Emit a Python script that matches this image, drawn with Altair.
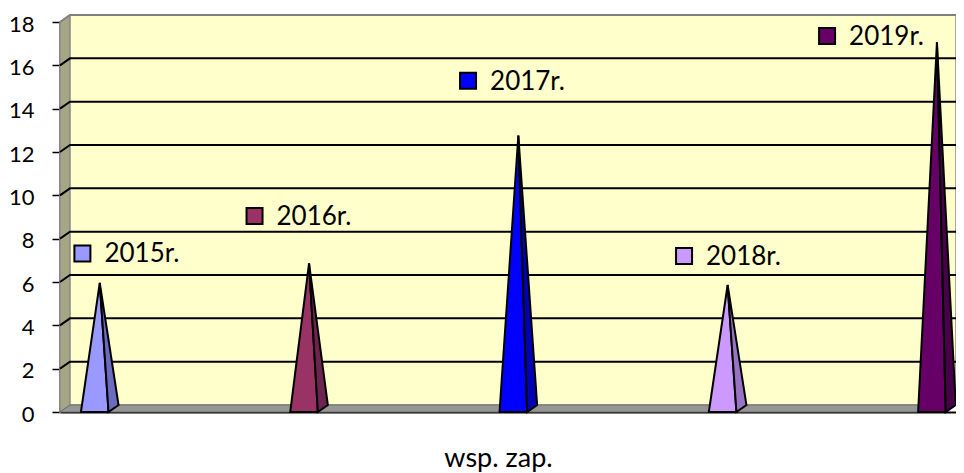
import altair as alt
import pandas as pd

# ---- data ----
years = ["2015r.", "2016r.", "2017r.", "2018r.", "2019r."]
values = [5.8, 6.7, 12.6, 5.7, 16.9]
front_colors = ["#9999FF", "#993366", "#0000FF", "#CC99FF", "#660066"]
side_colors = ["#6B6BC0", "#6E2450", "#0000B4", "#9A74C4", "#480048"]
label_x = [-0.059, 0.7635, 1.7836, 2.8156, 3.499]
label_y = [7.32, 9.05, 15.29, 7.2, 17.35]
y_ticks = [0, 2, 4, 6, 8, 10, 12, 14, 16, 18]
x_title = "wsp. zap."

# ---- layout constants (3-D look) ----
L, R = -0.166, 4.115          # x scale domain (category units)
D = 10 / 209.3                # depth offset in x units
DY = 7 / 21.667               # depth offset in y units
H = 13.8 / 209.3              # pyramid half base width
YMAX = 18
FONT = "Lato"

xs = alt.Scale(domain=[L, R], nice=False, zero=False)
ys = alt.Scale(domain=[0, YMAX], nice=False, zero=False)


def X():
    return alt.X("x:Q", scale=xs, axis=alt.Axis(
        title=x_title, labels=False, ticks=False, grid=False,
        domain=True, domainColor="black", domainWidth=2,
        titleFont=FONT, titleFontSize=27, titleFontWeight="normal",
        titleColor="black", titlePadding=33, titleX=438, titleAlign="center"))


def Y():
    return alt.Y("y:Q", scale=ys, axis=alt.Axis(
        title=None, values=y_ticks, grid=False, domain=True,
        domainColor="black", domainWidth=2, tickColor="black",
        tickWidth=1.5, tickSize=8, labelPadding=18, labelFont=FONT,
        labelFontSize=22, labelColor="black", labelOffset=2))


# walls (side wall + back wall)
walls = []
walls += [dict(key="side", x=L, y=YMAX, y2=0, fill="#A6A684"),
          dict(key="side", x=L + D, y=YMAX + DY, y2=DY, fill="#A6A684")]
walls += [dict(key="back", x=L + D, y=YMAX + DY, y2=DY, fill="#FFFFCC"),
          dict(key="back", x=R, y=YMAX + DY, y2=DY, fill="#FFFFCC")]
walls_df = pd.DataFrame(walls)

# floor
floor_df = pd.DataFrame([
    dict(key="floor", x=L, y=0, y2=0),
    dict(key="floor", x=L + D, y=DY, y2=0),
    dict(key="floor", x=R - D, y=DY, y2=0),
    dict(key="floor", x=R, y=DY, y2=DY),
])

# gridlines on side + back wall
grid = []
for g in y_ticks[1:]:
    col = "#808080" if g == YMAX else "black"
    for xx, yy in [(L, g), (L + D, g + DY), (R, g + DY)]:
        grid.append(dict(key=f"g{g}", x=xx, y=yy, col=col))
grid_df = pd.DataFrame(grid)

# pyramids: front face + side face
front, side = [], []
for i, (yr, v) in enumerate(zip(years, values)):
    c = float(i)
    ax, ay = c + D / 2, v + DY / 2
    front += [dict(key=yr, x=c - H, y=0, y2=0, fill=front_colors[i]),
              dict(key=yr, x=ax, y=ay, y2=0, fill=front_colors[i]),
              dict(key=yr, x=c + H, y=0, y2=0, fill=front_colors[i])]
    xb, xc = c + H, c + H + D
    up_b = ay + (DY - ay) * (xb - ax) / (xc - ax)
    side += [dict(key=yr, x=ax, y=ay, y2=ay, fill=side_colors[i]),
             dict(key=yr, x=xb, y=up_b, y2=0, fill=side_colors[i]),
             dict(key=yr, x=xc, y=DY, y2=DY, fill=side_colors[i])]
front_df = pd.DataFrame(front)
side_df = pd.DataFrame(side)

labels_df = pd.DataFrame(dict(x=label_x, y=label_y, text=years, fill=front_colors))

wall_layer = alt.Chart(walls_df).mark_area(
    stroke="#8C8C8C", strokeWidth=1.5, opacity=1).encode(
    x=X(), y=Y(), y2="y2:Q", detail="key:N",
    fill=alt.Fill("fill:N", scale=None))

grid_layer = alt.Chart(grid_df).mark_line(strokeWidth=2).encode(
    x=X(), y=Y(), detail="key:N", color=alt.Color("col:N", scale=None))

floor_layer = alt.Chart(floor_df).mark_area(
    fill="#969696", stroke="#6E6E6E", strokeWidth=1, opacity=1).encode(
    x=X(), y=Y(), y2="y2:Q", detail="key:N")

front_layer = alt.Chart(front_df).mark_area(
    stroke="black", strokeWidth=2, strokeJoin="miter", opacity=1).encode(
    x=X(), y=Y(), y2="y2:Q", detail="key:N",
    fill=alt.Fill("fill:N", scale=None))

side_layer = alt.Chart(side_df).mark_area(
    stroke="black", strokeWidth=2, strokeJoin="miter", opacity=1).encode(
    x=X(), y=Y(), y2="y2:Q", detail="key:N",
    fill=alt.Fill("fill:N", scale=None))

marker_layer = alt.Chart(labels_df).mark_square(
    size=256, stroke="black", strokeWidth=2, opacity=1).encode(
    x=X(), y=Y(), fill=alt.Fill("fill:N", scale=None))

text_layer = alt.Chart(labels_df).mark_text(
    align="left", baseline="middle", dx=22, dy=1, font=FONT, fontSize=26,
    color="black").encode(x=X(), y=Y(), text="text:N")

chart = alt.layer(
    wall_layer, grid_layer, floor_layer, front_layer, side_layer,
    marker_layer, text_layer
).properties(
    width=896, height=390,
    padding={"left": 52, "top": 14, "right": 0, "bottom": 60},
    autosize=alt.AutoSizeParams(type="none"),
    background="white",
).configure_view(stroke=None)

chart.save("out.html", embed_options={"renderer": "svg", "actions": False})
